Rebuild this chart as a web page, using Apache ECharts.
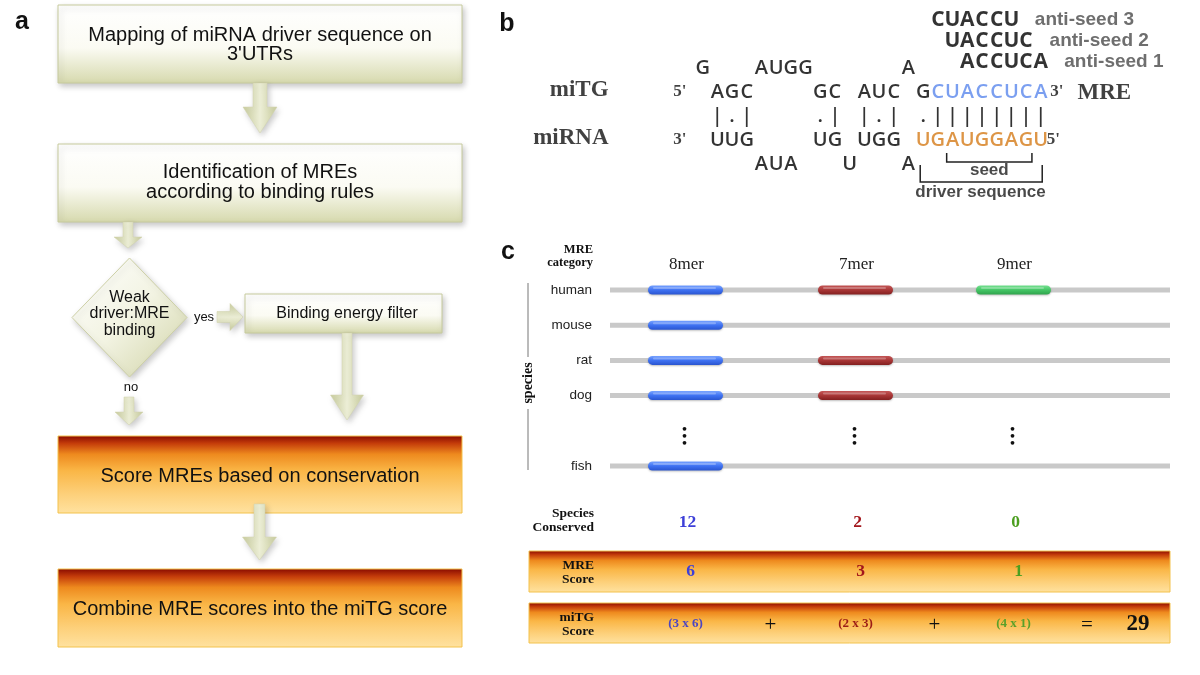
<!DOCTYPE html>
<html><head><meta charset="utf-8">
<script src="https://cdn.jsdelivr.net/npm/echarts@6/dist/echarts.min.js"></script>
<style>html,body{margin:0;padding:0;background:#fff}#c{width:1200px;height:675px}</style>
</head><body><div id="c"></div>
<script>
// ---------------- Panel b: miTG / miRNA duplex, one character per column ----------------
const duplexStartCol = -1;
const mitgBulge  = 'G   AUGG      A';
const mitgSeq    = ' AGC    GC AUC GCUACCUCA';
const pairSeq    = ' |.|    .| |.| .||||||||';
const mirnaSeq   = ' UUG    UG UGG UGAUGGAGU';
const mirnaBulge = '    AUA   U   A';
const mreCols    = [15, 22];   // MRE part of miTG (blue)
const driverCols = [14, 22];   // driver sequence of miRNA (orange)
const antiSeeds       = ['CUACCU', 'UACCUC', 'ACCUCA'];
const antiSeedLabels  = ['anti-seed 3', 'anti-seed 2', 'anti-seed 1'];
const antiSeedStart   = [15, 16, 17];

// ---------------- Panel c: MRE conservation ----------------
const mreCategories = ['8mer', '7mer', '9mer'];
const species = ['human', 'mouse', 'rat', 'dog', '', 'fish'];
const utrLength = 560;
const mreStart = [38, 208, 366];
const mreLength = 75;
const presence = { human: [1, 1, 1], mouse: [1, 0, 0], rat: [1, 1, 0], dog: [1, 1, 0], fish: [1, 0, 0] };
const speciesConserved = [12, 2, 0];
const mreScore = [6, 3, 1];
const mreCount = [3, 2, 4];
const mitgScore = 29;

// ---------------- layout / style constants ----------------
const SANS = 'Liberation Sans', SERIF = 'Liberation Serif', SEQ = 'Open Sans';
const ROW = { anti: [-2, -1.125, -0.25], bulgeTop: 0, mitg: 1, pair: 2, mirna: 3, bulgeBottom: 4 };
const catColors = ['#3d3fd8', '#a3161c', '#4c9f20'];
const formulaColors = ['#4b45c2', '#9c1d16', '#5aa02a'];
const barGrad = [
  ['#77a2ff', '#3f72f2', '#2a55d0'],
  ['#c45656', '#a83636', '#842020'],
  ['#74e190', '#44c565', '#2fa34c']
];
const equalsAt = 477, totalAt = 528;

const G = echarts.graphic;
function vgrad(stops) { return new G.LinearGradient(0, 0, 0, 1, stops.map((c, i) => ({ offset: c[0], color: c[1] }))); }
const greenFill = () => vgrad([[0, '#ffffff'], [0.55, '#fbfbf3'], [1, '#d6d9ad']]);
const orangeFill = () => vgrad([[0, '#860800'], [0.1, '#c43c0a'], [0.24, '#ee8a1e'], [0.45, '#fab646'], [0.75, '#fdd07a'], [1, '#ffe2a0']]);
const arrowFillV = () => new G.LinearGradient(0, 0, 1, 0, [{ offset: 0, color: '#c9cd9e' }, { offset: 0.5, color: '#eceed6' }, { offset: 1, color: '#c9cd9e' }]);
const arrowFillH = () => new G.LinearGradient(0, 0, 0, 1, [{ offset: 0, color: '#c9cd9e' }, { offset: 0.5, color: '#eceed6' }, { offset: 1, color: '#c9cd9e' }]);
const shadow = { shadowBlur: 6, shadowOffsetX: 2, shadowOffsetY: 3, shadowColor: 'rgba(0,0,0,0.22)' };

function box(x, y, w, h, kind) {
  return { type: 'rect', shape: { x, y, width: w, height: h },
    style: Object.assign({ fill: kind === 'o' ? orangeFill() : greenFill(), stroke: kind === 'o' ? '#f3c24c' : '#c6ca9c', lineWidth: 1 }, kind === 'o' ? {} : shadow) };
}
function downArrow(cx, y0, y1, tip, sw, hw) {
  return { type: 'polygon', shape: { points: [[cx - sw / 2, y0], [cx + sw / 2, y0], [cx + sw / 2, y1], [cx + hw / 2, y1], [cx, tip], [cx - hw / 2, y1], [cx - sw / 2, y1]] },
    style: Object.assign({ fill: arrowFillV(), stroke: '#d0d3ac', lineWidth: 0.5 }, shadow) };
}
function rightArrow(cy, x0, x1, tip, sh, hh) {
  return { type: 'polygon', shape: { points: [[x0, cy - sh / 2], [x1, cy - sh / 2], [x1, cy - hh / 2], [tip, cy], [x1, cy + hh / 2], [x1, cy + sh / 2], [x0, cy + sh / 2]] },
    style: Object.assign({ fill: arrowFillH(), stroke: '#d0d3ac', lineWidth: 0.5 }, shadow) };
}
function txt(text, x, y, size, o) {
  o = o || {};
  return { type: 'text', x: o.tx || 0, y: o.ty || 0, rotation: o.rot || 0, z: 10,
    style: { text, x: o.tx ? 0 : x, y: o.ty ? 0 : y, fontSize: size, fontFamily: o.family || SANS, fontWeight: o.weight || 'normal',
      fill: o.color || '#111', align: o.align || 'center', verticalAlign: 'middle', lineHeight: o.lh || size * 1.1 } };
}

const graphics = [
  // panel labels
  txt('a', 22, 22, 25, { weight: 'bold' }),
  txt('b', 507, 24, 25, { weight: 'bold' }),
  txt('c', 508, 252, 25, { weight: 'bold' }),
  // panel a flowchart
  box(58, 5, 404, 78, 'g'),
  txt("Mapping of miRNA driver sequence on\n3'UTRs", 260, 45, 20, { lh: 19 }),
  downArrow(260, 83, 107, 133, 14, 34),
  box(58, 144, 404, 78, 'g'),
  txt('Identification of MREs\naccording to binding rules', 260, 182.5, 20, { lh: 20 }),
  downArrow(128, 222, 237, 248, 10, 28),
  { type: 'polygon', shape: { points: [[129.5, 258], [187, 317.5], [129.5, 377], [72, 317.5]] },
    style: Object.assign({ fill: new G.LinearGradient(0, 0, 1, 1, [{ offset: 0, color: '#ffffff' }, { offset: 0.5, color: '#f2f3e2' }, { offset: 1, color: '#cfd2a4' }]), stroke: '#cdd0a6', lineWidth: 1 }, shadow) },
  txt('Weak\ndriver:MRE\nbinding', 129.5, 314, 16, { lh: 16.5 }),
  txt('yes', 204, 317, 13),
  rightArrow(317, 217, 230, 243, 11, 27),
  box(245, 294, 197, 39, 'g'),
  txt('Binding energy filter', 347, 314, 16),
  downArrow(347, 333, 395, 420, 10, 33),
  txt('no', 131, 387, 13),
  downArrow(129, 397, 412, 425, 10, 28),
  box(58, 436, 404, 77, 'o'),
  txt('Score MREs based on conservation', 260, 476, 20),
  downArrow(259.5, 504, 537, 560, 11, 34),
  box(58, 569, 404, 78, 'o'),
  txt('Combine MRE scores into the miTG score', 260, 609, 20),
  // panel c static labels
  txt('MRE\ncategory', 593, 256.5, 12.5, { family: SERIF, weight: 'bold', align: 'right', lh: 13 }),
  { type: 'line', shape: { x1: 528, y1: 283, x2: 528, y2: 357 }, style: { stroke: '#777', lineWidth: 1 } },
  { type: 'line', shape: { x1: 528, y1: 409, x2: 528, y2: 470 }, style: { stroke: '#777', lineWidth: 1 } },
  txt('species', 0, 0, 14, { family: SERIF, weight: 'bold', tx: 528, ty: 383, rot: Math.PI / 2 }),
  txt('Species\nConserved', 594, 520.5, 13.5, { family: SERIF, weight: 'bold', align: 'right', lh: 13.5 }),
  box(529, 551, 641, 41, 'o'),
  txt('MRE\nScore', 594, 572.5, 13.5, { family: SERIF, weight: 'bold', align: 'right', lh: 13.5 }),
  box(529, 603, 641, 40, 'o'),
  txt('miTG\nScore', 594, 625, 13.5, { family: SERIF, weight: 'bold', align: 'right', lh: 14 })
];

// ---------------- panel b data items ----------------
function rowItems(str, row, colorFn) {
  const out = [];
  for (let i = 0; i < str.length; i++) {
    const ch = str[i];
    if (ch === ' ') continue;
    const col = duplexStartCol + i;
    out.push({ name: ch, value: [col, row], label: { color: colorFn ? colorFn(col) : '#000' } });
  }
  return out;
}
const duplexData = [].concat(
  rowItems(mitgBulge, ROW.bulgeTop),
  rowItems(mitgSeq, ROW.mitg, c => (c >= mreCols[0] && c <= mreCols[1]) ? '#5a87ec' : '#000'),
  rowItems(pairSeq, ROW.pair),
  rowItems(mirnaSeq, ROW.mirna, c => (c >= driverCols[0] && c <= driverCols[1]) ? '#d47a18' : '#000'),
  rowItems(mirnaBulge, ROW.bulgeBottom)
);
const antiData = [];
antiSeeds.forEach((s, k) => {
  for (let i = 0; i < s.length; i++) antiData.push({ name: s[i], value: [antiSeedStart[k] + i, ROW.anti[k]] });
});
const antiLabelData = antiSeedLabels.map((s, k) => ({ name: s, value: [antiSeedStart[k] + antiSeeds[k].length - 0.5 + 1.1, ROW.anti[k]] }));
const primeData = [
  { name: "5'", value: [-2.55, ROW.mitg] }, { name: "3'", value: [-2.55, ROW.mirna] },
  { name: "3'", value: [mreCols[1] + 1.1, ROW.mitg] }, { name: "5'", value: [driverCols[1] + 0.85, ROW.mirna] }
];
const nameData = [
  { name: 'miTG', value: [-7.4, ROW.mitg - 0.08], label: { align: 'right' } },
  { name: 'miRNA', value: [-7.4, ROW.mirna - 0.08], label: { align: 'right' } },
  { name: 'MRE', value: [24.5, ROW.mitg + 0.05], label: { align: 'left' } }
];
const bracketData = [[15.6, 21.4, 3.54, 3.92], [13.8, 22.1, 4.04, 4.75]];
const bracketLabelData = [{ name: 'seed', value: [18.5, 4.27] }, { name: 'driver sequence', value: [17.9, 5.2] }];

function textScatter(data, label) {
  return { type: 'scatter', xAxisIndex: 0, yAxisIndex: 0, data, symbolSize: 0, silent: true, clip: false,
    itemStyle: { color: 'transparent' },
    label: Object.assign({ show: true, position: 'inside', formatter: '{b}', align: 'center', verticalAlign: 'middle' }, label) };
}

// ---------------- panel c data items ----------------
const trackData = [];
const mreData = [];
species.forEach((sp, r) => {
  if (!presence[sp]) return;
  trackData.push([0, r, utrLength]);
  presence[sp].forEach((p, k) => { if (p) mreData.push([mreStart[k], r, mreStart[k] + mreLength, k]); });
});
const centers = mreStart.map(s => s + mreLength / 2);
const dotsRow = species.indexOf('');
const dotData = centers.map(c => [c, dotsRow]);
const summaryData = centers.map((c, k) => [c, 0, k]);

const option = {
  animation: false,
  graphic: { elements: graphics },
  grid: [
    { left: 599.75, top: 8, width: 499.8, height: 192 },
    { left: 610, top: 272.4, width: 560, height: 211.2 }
  ],
  xAxis: [
    { gridIndex: 0, type: 'value', min: -8, max: 26, show: false },
    { gridIndex: 1, type: 'value', min: 0, max: utrLength, show: false }
  ],
  yAxis: [
    { gridIndex: 0, type: 'value', min: -2.5, max: 5.5, inverse: true, show: false },
    { gridIndex: 1, type: 'category', data: species, inverse: true,
      axisLine: { show: false }, axisTick: { show: false }, splitLine: { show: false },
      axisLabel: { margin: 18, fontSize: 13.5, fontFamily: SANS, color: '#222' } }
  ],
  series: [
    textScatter(duplexData, { fontFamily: SEQ, fontSize: 20, fontWeight: 600, color: '#000' }),
    textScatter(antiData, { fontFamily: SEQ, fontSize: 21, fontWeight: 'bold', color: '#000' }),
    textScatter(antiLabelData, { fontFamily: SANS, fontSize: 19, fontWeight: 'bold', color: '#4a4a4a', align: 'left' }),
    textScatter(primeData, { fontFamily: SERIF, fontSize: 17, fontWeight: 'bold', color: '#111' }),
    textScatter(nameData, { fontFamily: SERIF, fontSize: 23, fontWeight: 'bold', color: '#111' }),
    textScatter(bracketLabelData, { fontFamily: SANS, fontSize: 17, fontWeight: 'bold', color: '#1a1a1a' }),
    { type: 'custom', xAxisIndex: 0, yAxisIndex: 0, data: bracketData, silent: true, clip: false,
      encode: { x: [0, 1], y: [2, 3] },
      renderItem: (params, api) => {
        const a = api.coord([api.value(0), api.value(2)]);
        const b = api.coord([api.value(1), api.value(3)]);
        return { type: 'polyline', shape: { points: [[a[0], a[1]], [a[0], b[1]], [b[0], b[1]], [b[0], a[1]]] },
          style: { stroke: '#222', lineWidth: 1.5, fill: null } };
      } },
    // tracks
    { type: 'custom', xAxisIndex: 1, yAxisIndex: 1, data: trackData, silent: true, clip: false,
      encode: { x: [0, 2], y: 1 },
      renderItem: (params, api) => {
        const a = api.coord([api.value(0), api.value(1)]);
        const b = api.coord([api.value(2), api.value(1)]);
        return { type: 'rect', shape: { x: a[0], y: a[1] - 2.5, width: b[0] - a[0], height: 5 }, style: { fill: '#c9c9c9' } };
      } },
    // MREs
    { type: 'custom', xAxisIndex: 1, yAxisIndex: 1, data: mreData, silent: true, clip: false,
      encode: { x: [0, 2], y: 1 },
      renderItem: (params, api) => {
        const a = api.coord([api.value(0), api.value(1)]);
        const b = api.coord([api.value(2), api.value(1)]);
        const g = barGrad[api.value(3)];
        return { type: 'group', children: [
          { type: 'rect', shape: { x: a[0], y: a[1] - 4.5, width: b[0] - a[0], height: 9, r: 4.5 },
            style: { fill: new G.LinearGradient(0, 0, 0, 1, [{ offset: 0, color: g[0] }, { offset: 0.5, color: g[1] }, { offset: 1, color: g[2] }]),
              shadowBlur: 2, shadowOffsetY: 1, shadowColor: 'rgba(0,0,0,0.25)' } },
          { type: 'rect', shape: { x: a[0] + 5, y: a[1] - 3, width: b[0] - a[0] - 12, height: 2, r: 1 },
            style: { fill: 'rgba(255,255,255,0.28)' } }
        ] };
      } },
    // ellipsis dots
    { type: 'custom', xAxisIndex: 1, yAxisIndex: 1, data: dotData, silent: true, clip: false,
      encode: { x: 0, y: 1 },
      renderItem: (params, api) => {
        const p = api.coord([api.value(0), api.value(1)]);
        return { type: 'group', children: [-7, 0, 7].map(d => ({ type: 'circle', shape: { cx: p[0] - 1, cy: p[1] + 5 + d, r: 1.9 }, style: { fill: '#111' } })) };
      } },
    // headers and score rows
    { type: 'custom', xAxisIndex: 1, yAxisIndex: 1, data: summaryData, silent: true, clip: false, z: 20,
      encode: { x: 0, y: 1 },
      renderItem: (params, api) => {
        const k = api.value(2);
        const x = api.coord([api.value(0), 0])[0];
        const t = (text, tx, ty, size, color, weight) => ({ type: 'text', style: { text, x: tx, y: ty, fontSize: size, fontFamily: SERIF, fontWeight: weight || 'normal', fill: color, align: 'center', verticalAlign: 'middle' } });
        const ch = [
          t(mreCategories[k], x + 1, 265, 17, '#222'),
          t(String(speciesConserved[k]), x + 2, 522, 17.5, catColors[k], 'bold'),
          t(String(mreScore[k]), x + 5, 571, 17.5, catColors[k], 'bold'),
          t('(' + mreCount[k] + ' x ' + mreScore[k] + ')', x, 624, 13, formulaColors[k], 'bold')
        ];
        if (k < centers.length - 1) {
          const xn = api.coord([centers[k + 1], 0])[0];
          ch.push(t('+', (x + xn) / 2, 625, 21, '#111'));
        } else {
          ch.push(t('=', api.coord([equalsAt, 0])[0], 625, 21, '#111'));
          ch.push(t(String(mitgScore), api.coord([totalAt, 0])[0], 624, 23, '#111', 'bold'));
        }
        return { type: 'group', children: ch };
      } }
  ]
};
const chart = echarts.init(document.getElementById('c'), null, { renderer: 'canvas' });
chart.setOption(option);
</script>
</body></html>
